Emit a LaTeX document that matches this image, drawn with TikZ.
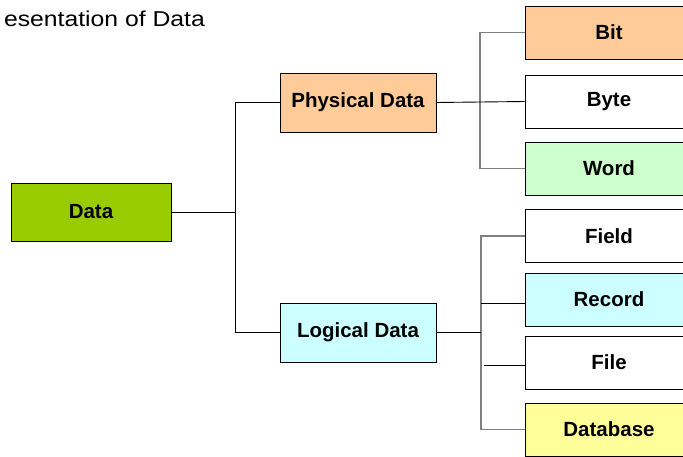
\documentclass[tikz,border=0pt]{standalone}
\usepackage{fontspec}
\setmainfont{Liberation Sans}
\definecolor{dataG}{HTML}{99CC00}
\definecolor{physO}{HTML}{FFCC99}
\definecolor{logC}{HTML}{CCFFFF}
\definecolor{wordG}{HTML}{CCFFCC}
\definecolor{dbY}{HTML}{FFFF99}
\definecolor{busgray}{HTML}{808080}
\begin{document}
\begin{tikzpicture}[x=1pt,y=-1pt,
  box/.style={draw=black,line width=0.9pt,inner sep=0pt,font=\fontsize{20.5}{24}\selectfont\bfseries},
  midbox/.style={box,minimum width=156pt,minimum height=59pt},
  leafbox/.style={box,minimum width=168pt,minimum height=53pt},
  blk/.style={draw=black,line width=0.9pt},
  gry/.style={draw=busgray,line width=1.4pt}]
\useasboundingbox (0,0) rectangle (683,457);
\node[anchor=base east,inner sep=0pt,font=\fontsize{21.5}{24}\selectfont] (title) at (205,27) {\scalebox{1.15}[1]{esentation of Data}};
\node[box,fill=dataG,minimum width=160pt,minimum height=58pt] (data) at (91,212) {Data};
\node[midbox,fill=physO] (phys) at (358,102.5) {Physical Data};
\node[midbox,fill=logC] (log) at (358,332.5) {Logical Data};
\node[leafbox,fill=physO] (bit) at (609,32.5) {Bit};
\node[leafbox,fill=white] (byte) at (609,101.5) {Byte};
\node[leafbox,fill=wordG] (word) at (609,168.5) {Word};
\node[leafbox,fill=white] (field) at (609,236) {Field};
\node[leafbox,fill=logC] (record) at (609,299.5) {Record};
\node[leafbox,fill=white] (file) at (609,362.5) {File};
\node[leafbox,fill=dbY] (db) at (609,429.5) {Database};
% left bus
\coordinate (lj) at (235,212);
\coordinate (lt) at (235,102.5);
\coordinate (lb) at (235,332.5);
\draw[blk] (data.east) -- (lj);
\draw[blk] (lt) -- (lb);
\draw[blk] (lt) -- (phys.west);
\draw[blk] (lb) -- (log.west);
% physical bus
\coordinate (pt) at (480,32.5);
\coordinate (pb) at (480,168.5);
\draw[gry] (bit.west) -- (pt) -- (pb) -- (word.west);
\draw[blk] (phys.east) -- (byte.west);
% logical bus
\coordinate (qt) at (481,236);
\coordinate (qb) at (481,429.5);
\coordinate (qm) at (481,332.5);
\coordinate (qr) at (481,303);
\coordinate (qf) at (484,365);
\draw[gry] (field.west) -- (qt) -- (qb) -- (db.west);
\draw[blk] (log.east) -- (qm);
\draw[blk] (qr) -- (record.west |- qr);
\draw[blk] (qf) -- (file.west |- qf);
\end{tikzpicture}
\end{document}
